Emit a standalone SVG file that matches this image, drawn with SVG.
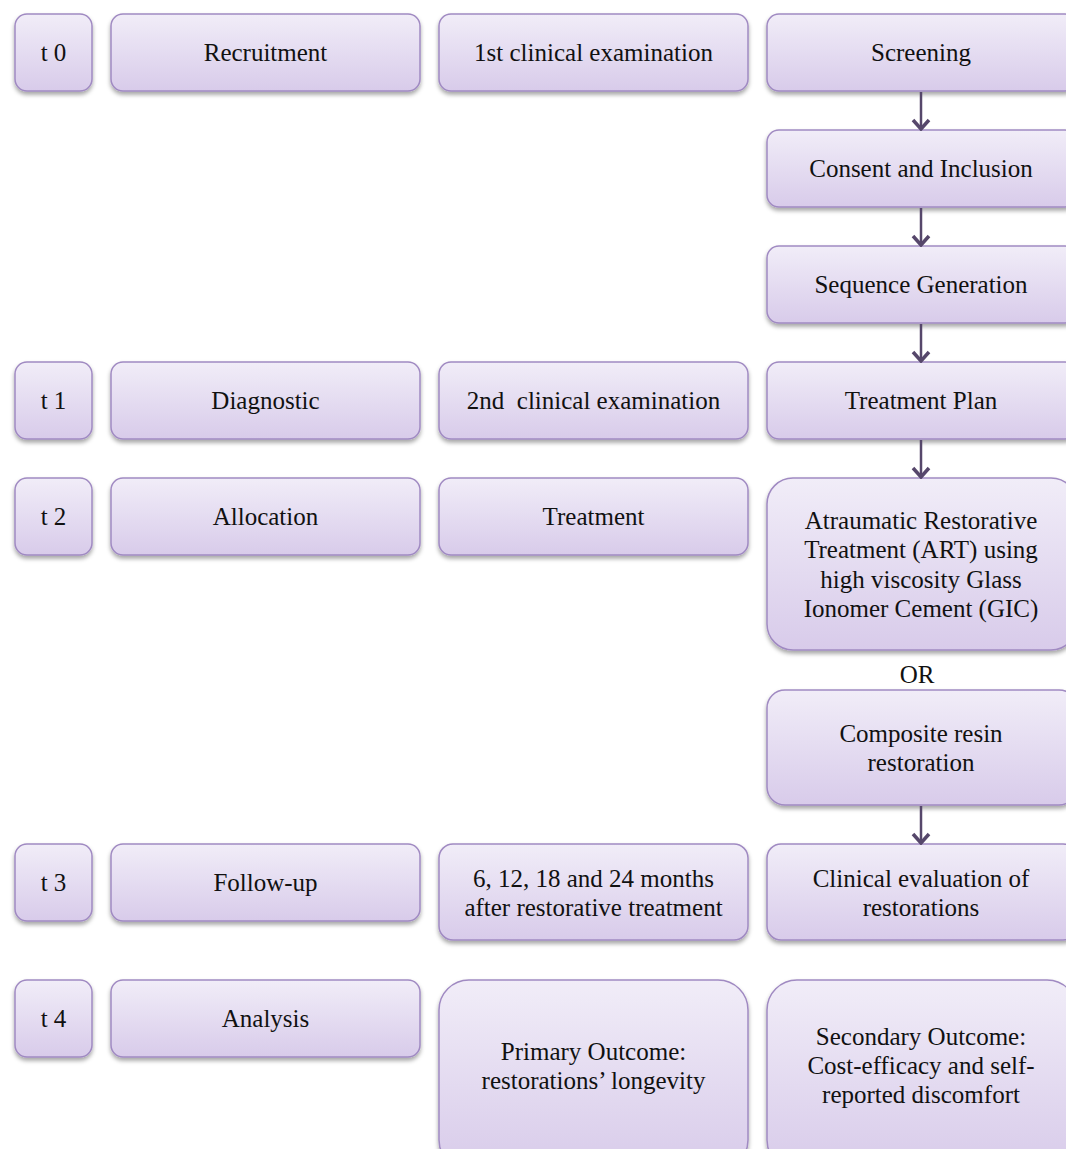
<svg xmlns="http://www.w3.org/2000/svg" width="1066" height="1149" viewBox="0 0 1066 1149">
<defs>
<linearGradient id="g" x1="0" y1="0" x2="0" y2="1">
<stop offset="0" stop-color="#f1edf8"/>
<stop offset="1" stop-color="#d8cbea"/>
</linearGradient>
<filter id="sh" x="-10%" y="-10%" width="120%" height="130%">
<feDropShadow dx="0" dy="3" stdDeviation="2" flood-color="#000" flood-opacity="0.35"/>
</filter>
<marker id="ah" markerWidth="14" markerHeight="20" refX="12" refY="10" orient="auto" markerUnits="userSpaceOnUse" viewBox="0 0 14 20">
<path d="M3,2 L12,10 L3,18" fill="none" stroke="#56476b" stroke-width="3.5"/>
</marker>
<style>
.b{fill:url(#g);stroke:#a08ac2;stroke-width:1.5;filter:url(#sh)}
text{font-family:"Liberation Serif","Times New Roman",serif;font-size:25px;fill:#111;text-anchor:middle}
.c line{stroke:#56476b;stroke-width:2.5;marker-end:url(#ah)}
</style>
</defs>
<rect width="1066" height="1149" fill="#fff"/>

<g id="t0"><rect class="b" x="15" y="14" width="77" height="77" rx="12"/><text x="53.5" y="61">t 0</text></g>
<g id="recruitment"><rect class="b" x="111" y="14" width="309" height="77" rx="12"/><text x="265.5" y="61">Recruitment</text></g>
<g id="exam1"><rect class="b" x="439" y="14" width="309" height="77" rx="12"/><text x="593.5" y="61">1st clinical examination</text></g>
<g id="screening"><rect class="b" x="767" y="14" width="310" height="77" rx="12"/><text x="921" y="61">Screening</text></g>
<g id="consent"><rect class="b" x="767" y="130" width="310" height="77" rx="12"/><text x="921" y="177">Consent and Inclusion</text></g>
<g id="sequence"><rect class="b" x="767" y="246" width="310" height="77" rx="12"/><text x="921" y="293">Sequence Generation</text></g>

<g id="t1"><rect class="b" x="15" y="362" width="77" height="77" rx="12"/><text x="53.5" y="409">t 1</text></g>
<g id="diagnostic"><rect class="b" x="111" y="362" width="309" height="77" rx="12"/><text x="265.5" y="409">Diagnostic</text></g>
<g id="exam2"><rect class="b" x="439" y="362" width="309" height="77" rx="12"/><text x="593.5" y="409" xml:space="preserve">2nd  clinical examination</text></g>
<g id="plan"><rect class="b" x="767" y="362" width="310" height="77" rx="12"/><text x="921" y="409">Treatment Plan</text></g>

<g id="t2"><rect class="b" x="15" y="478" width="77" height="77" rx="12"/><text x="53.5" y="525">t 2</text></g>
<g id="allocation"><rect class="b" x="111" y="478" width="309" height="77" rx="12"/><text x="265.5" y="525">Allocation</text></g>
<g id="treatment"><rect class="b" x="439" y="478" width="309" height="77" rx="12"/><text x="593.5" y="525">Treatment</text></g>
<g id="art"><rect class="b" x="767" y="478" width="310" height="172" rx="26"/>
<text x="921" y="529">Atraumatic Restorative</text>
<text x="921" y="558">Treatment (ART) using</text>
<text x="921" y="588">high viscosity Glass</text>
<text x="921" y="617">Ionomer Cement (GIC)</text></g>
<text x="917" y="683">OR</text>
<g id="composite"><rect class="b" x="767" y="690" width="310" height="115" rx="18"/>
<text x="921" y="742">Composite resin</text>
<text x="921" y="771">restoration</text></g>

<g id="t3"><rect class="b" x="15" y="844" width="77" height="77" rx="12"/><text x="53.5" y="891">t 3</text></g>
<g id="followup"><rect class="b" x="111" y="844" width="309" height="77" rx="12"/><text x="265.5" y="891">Follow-up</text></g>
<g id="months"><rect class="b" x="439" y="844" width="309" height="96" rx="14"/>
<text x="593.5" y="887">6, 12, 18 and 24 months</text>
<text x="593.5" y="916">after restorative treatment</text></g>
<g id="evaluation"><rect class="b" x="767" y="844" width="310" height="96" rx="14"/>
<text x="921" y="887">Clinical evaluation of</text>
<text x="921" y="916">restorations</text></g>

<g id="t4"><rect class="b" x="15" y="980" width="77" height="77" rx="12"/><text x="53.5" y="1027">t 4</text></g>
<g id="analysis"><rect class="b" x="111" y="980" width="309" height="77" rx="12"/><text x="265.5" y="1027">Analysis</text></g>
<g id="primary"><rect class="b" x="439" y="980" width="309" height="190" rx="30"/>
<text x="593.5" y="1060">Primary Outcome:</text>
<text x="593.5" y="1089">restorations’ longevity</text></g>
<g id="secondary"><rect class="b" x="767" y="980" width="310" height="190" rx="30"/>
<text x="921" y="1045">Secondary Outcome:</text>
<text x="921" y="1074">Cost-efficacy and self-</text>
<text x="921" y="1103">reported discomfort</text></g>

<g class="c" id="connectors">
<line x1="921" y1="92" x2="921" y2="129"/>
<line x1="921" y1="208" x2="921" y2="245"/>
<line x1="921" y1="324" x2="921" y2="361"/>
<line x1="921" y1="440" x2="921" y2="477"/>
<line x1="921" y1="806" x2="921" y2="843"/>
</g>
</svg>
